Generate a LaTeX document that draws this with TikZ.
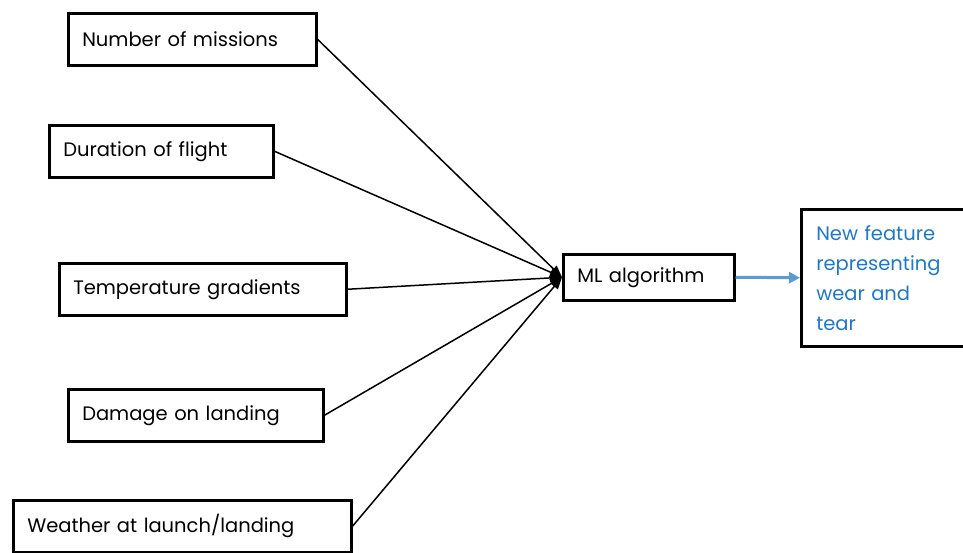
\documentclass[tikz,border=0pt]{standalone}
\usepackage{fontspec}
\setmainfont{Poppins}
\usetikzlibrary{arrows.meta}
\definecolor{tblue}{RGB}{30,120,200}
\definecolor{ablue}{RGB}{91,155,213}
\begin{document}
\begin{tikzpicture}[x=1pt,y=-1pt,
  inbox/.style={draw=black,line width=2.5pt,rectangle,anchor=north west,
    inner xsep=14pt,inner ysep=0pt,align=left,text width=#1,
    minimum height=52pt,font=\fontsize{19.5}{24}\selectfont},
  conn/.style={draw=black,line width=1.5pt,-{Triangle[length=12pt,width=9pt]}}]
\useasboundingbox (0,0) rectangle (963,552);
\node[inbox=220pt] (n1) at (67,12) {Number of missions};
\node[inbox=196pt] (n2) at (48,124) {Duration of flight};
\node[inbox=259pt] (n3) at (58,262) {Temperature gradients};
\node[inbox=227pt] (n4) at (67,388) {Damage on landing};
\node[inbox=310pt] (n5) at (12,499) {Weather at launch/landing};
\node[inbox=143pt,minimum height=46pt] (ml) at (562,253) {ML algorithm};
\node[draw=black,line width=2.5pt,rectangle,anchor=north west,inner xsep=15pt,
  inner ysep=0pt,minimum height=137pt,text width=160pt,align=left,
  text=tblue,font=\fontsize{19.5}{30}\selectfont] (nf) at (800,208)
  {New feature\\representing\\wear and\\tear};
\foreach \n in {n1,n2,n3,n4,n5} \draw[conn] (\n.east) -- (ml.west);
\draw[ablue,line width=3pt,-{Triangle[length=11pt,width=11pt]}] (ml.east) -- (nf.west);
\end{tikzpicture}
\end{document}
